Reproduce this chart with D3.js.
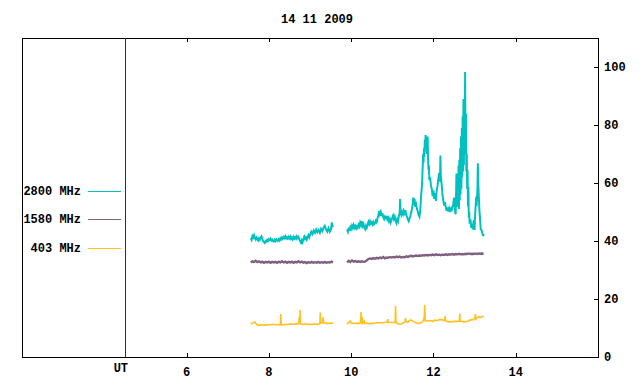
<!DOCTYPE html>
<html>
<head>
<meta charset="utf-8">
<script src="https://cdn.jsdelivr.net/npm/d3@7"></script>
<style>
  body { margin: 0; background: #fff; }
  text { font-family: "Liberation Mono", "DejaVu Sans Mono", monospace; font-weight: bold; font-size: 12px; }
</style>
</head>
<body>
<div id="chart"></div>
<script>
const title = "14 11 2009";
const xTicks = [6, 8, 10, 12, 14];
const yTicks = [0, 20, 40, 60, 80, 100];
const utHour = 4.5;
const legendLabels = ["2800 MHz", "1580 MHz", "403 MHz"];
const seriesColors = ["#00c0c0", "#806080", "#ffc020"];

// [hour UT, flux] - morning and afternoon runs of each frequency
const s2800am = [[7.56,41.0],[7.58,40.4],[7.60,41.7],[7.62,41.2],[7.64,42.0],[7.66,41.0],[7.68,40.5],[7.70,41.2],[7.72,40.7],[7.74,40.2],[7.76,40.9],[7.78,40.4],[7.80,41.2],[7.82,41.6],[7.84,40.8],[7.86,40.0],[7.88,39.6],[7.90,39.3],[7.92,40.0],[7.94,39.8],[7.96,40.4],[7.98,40.0],[8.00,40.6],[8.02,40.3],[8.04,40.8],[8.06,40.2],[8.08,40.5],[8.10,40.0],[8.12,39.8],[8.14,40.4],[8.16,40.0],[8.18,40.6],[8.20,40.2],[8.22,40.0],[8.24,40.6],[8.26,40.2],[8.28,40.9],[8.30,40.5],[8.32,41.2],[8.34,40.8],[8.36,41.4],[8.38,41.0],[8.40,41.6],[8.42,40.9],[8.44,41.3],[8.46,40.8],[8.48,41.4],[8.50,40.9],[8.52,41.5],[8.54,40.7],[8.56,41.2],[8.58,40.6],[8.60,41.4],[8.62,40.8],[8.64,41.3],[8.66,40.8],[8.68,41.6],[8.70,41.0],[8.72,41.4],[8.74,40.6],[8.76,40.0],[8.78,39.4],[8.80,40.2],[8.82,39.6],[8.84,40.8],[8.86,41.5],[8.88,40.7],[8.90,41.2],[8.92,40.5],[8.94,41.4],[8.96,42.0],[8.98,41.2],[9.00,42.0],[9.03,43.2],[9.06,42.4],[9.09,43.6],[9.12,42.8],[9.15,44.0],[9.18,43.0],[9.21,43.8],[9.24,42.8],[9.27,44.2],[9.30,43.4],[9.33,44.6],[9.36,45.2],[9.39,44.0],[9.42,43.2],[9.45,44.4],[9.48,43.2],[9.51,44.0],[9.53,46.4],[9.54,44.8],[9.56,45.5]];

const s2800pm = [[9.90,44.0],[9.92,43.2],[9.94,44.6],[9.96,43.5],[9.98,44.8],[10.00,44.2],[10.02,45.3],[10.04,44.5],[10.06,45.5],[10.08,44.6],[10.10,45.2],[10.12,44.3],[10.14,45.0],[10.16,44.5],[10.18,45.6],[10.20,45.0],[10.22,46.3],[10.24,45.5],[10.26,46.8],[10.28,45.2],[10.30,45.8],[10.32,44.5],[10.34,44.0],[10.36,45.2],[10.38,44.6],[10.40,45.8],[10.42,46.6],[10.44,45.8],[10.46,46.8],[10.48,46.0],[10.50,46.4],[10.52,45.7],[10.54,46.5],[10.56,45.8],[10.58,46.2],[10.60,47.0],[10.62,46.5],[10.64,47.8],[10.66,48.8],[10.68,50.4],[10.70,49.2],[10.72,50.0],[10.74,48.6],[10.76,49.6],[10.78,48.2],[10.80,47.6],[10.82,48.8],[10.84,47.5],[10.86,48.6],[10.88,47.4],[10.90,48.0],[10.92,46.8],[10.94,47.6],[10.96,46.4],[10.98,47.2],[11.00,48.0],[11.02,48.8],[11.04,47.6],[11.06,48.4],[11.08,47.0],[11.10,46.2],[11.12,47.4],[11.14,46.8],[11.16,48.6],[11.18,49.8],[11.19,54.5],[11.20,50.2],[11.22,49.0],[11.24,50.0],[11.26,49.2],[11.28,50.4],[11.30,49.6],[11.32,50.6],[11.34,49.0],[11.36,48.2],[11.38,47.4],[11.40,46.8],[11.42,47.8],[11.44,48.6],[11.46,49.8],[11.48,51.2],[11.50,53.0],[11.51,55.0],[11.52,52.4],[11.54,54.6],[11.56,51.8],[11.58,52.6],[11.60,51.0],[11.62,50.2],[11.64,49.0],[11.66,48.4],[11.68,50.6],[11.70,55.4],[11.72,59.0],[11.73,62.0],[11.74,66.0],[11.75,70.0],[11.76,67.0],[11.77,72.0],[11.78,69.0],[11.79,75.0],[11.80,71.5],[11.81,76.5],[11.82,72.0],[11.83,75.5],[11.84,70.0],[11.85,74.0],[11.86,76.0],[11.87,68.0],[11.88,64.5],[11.89,66.0],[11.90,61.0],[11.92,62.0],[11.94,59.0],[11.96,58.0],[11.98,55.5],[12.00,57.5],[12.02,54.5],[12.04,56.5],[12.06,53.8],[12.08,57.5],[12.10,59.0],[12.12,61.5],[12.14,63.5],[12.16,60.5],[12.17,69.5],[12.18,62.0],[12.20,59.5],[12.22,56.0],[12.24,54.0],[12.26,52.2],[12.28,53.5],[12.30,51.6],[12.32,50.4],[12.34,51.6],[12.36,50.2],[12.38,51.2],[12.40,50.0],[12.42,51.6],[12.44,50.2],[12.46,51.8],[12.48,52.5],[12.50,55.0],[12.52,50.6],[12.54,49.2],[12.55,56.0],[12.56,63.3],[12.57,55.0],[12.58,51.8],[12.59,58.0],[12.60,52.0],[12.61,66.0],[12.62,51.0],[12.63,68.0],[12.64,54.0],[12.65,72.0],[12.66,56.0],[12.67,76.0],[12.68,58.0],[12.69,79.0],[12.70,62.0],[12.71,83.0],[12.72,64.0],[12.73,89.0],[12.74,66.0],[12.75,88.0],[12.76,70.0],[12.77,98.3],[12.78,72.0],[12.79,84.0],[12.80,64.0],[12.81,70.0],[12.82,58.0],[12.83,64.5],[12.84,52.0],[12.85,58.7],[12.86,48.0],[12.87,50.0],[12.88,46.0],[12.90,47.5],[12.92,44.5],[12.94,46.0],[12.96,44.0],[12.98,47.2],[13.00,43.8],[13.01,48.0],[13.02,50.7],[13.04,55.3],[13.05,52.0],[13.07,58.0],[13.08,66.8],[13.09,60.0],[13.10,56.4],[13.12,50.0],[13.13,48.4],[13.15,44.0],[13.17,43.8],[13.19,42.6],[13.21,41.7],[13.22,42.4]];

const s1580am = [[7.56,32.6],[7.60,33.0],[7.64,32.8],[7.68,33.2],[7.72,32.7],[7.76,33.0],[7.80,32.6],[7.84,32.9],[7.88,32.5],[7.92,32.8],[7.96,32.6],[8.00,32.9],[8.04,32.5],[8.08,32.8],[8.12,32.6],[8.16,32.8],[8.20,32.5],[8.24,32.9],[8.28,32.6],[8.32,33.0],[8.36,32.6],[8.40,32.9],[8.44,32.5],[8.48,32.8],[8.52,32.6],[8.56,32.9],[8.60,32.5],[8.64,32.8],[8.68,32.6],[8.72,33.0],[8.76,32.6],[8.80,32.9],[8.84,32.5],[8.88,32.7],[8.92,32.4],[8.96,32.7],[9.00,32.5],[9.04,32.8],[9.08,32.5],[9.12,32.7],[9.16,32.5],[9.20,32.8],[9.24,32.5],[9.28,32.7],[9.32,32.5],[9.36,32.8],[9.40,32.5],[9.44,32.7],[9.48,32.6],[9.52,32.9],[9.56,32.6]];

const s1580pm = [[9.90,32.6],[9.94,33.2],[9.98,32.8],[10.02,33.3],[10.06,32.9],[10.10,33.1],[10.14,32.8],[10.18,33.0],[10.22,32.8],[10.26,33.0],[10.30,32.8],[10.34,32.9],[10.38,33.3],[10.42,33.8],[10.46,34.0],[10.50,33.8],[10.54,34.1],[10.58,33.9],[10.62,34.2],[10.66,34.0],[10.70,34.3],[10.74,34.1],[10.78,34.5],[10.82,34.0],[10.86,34.3],[10.90,34.2],[10.94,34.5],[10.98,34.3],[11.02,34.5],[11.06,34.3],[11.10,34.6],[11.14,34.4],[11.18,34.6],[11.22,34.3],[11.26,34.5],[11.30,34.4],[11.34,34.7],[11.38,34.5],[11.42,34.8],[11.46,34.9],[11.50,34.7],[11.54,34.9],[11.58,35.0],[11.62,34.8],[11.66,35.0],[11.70,34.9],[11.74,35.1],[11.78,35.0],[11.82,35.2],[11.86,35.0],[11.90,35.2],[11.94,35.1],[11.98,35.3],[12.02,35.1],[12.06,35.4],[12.10,35.2],[12.14,35.3],[12.18,35.1],[12.22,35.3],[12.26,35.2],[12.30,35.4],[12.34,35.2],[12.38,35.4],[12.42,35.3],[12.46,35.5],[12.50,35.3],[12.54,35.5],[12.58,35.4],[12.62,35.6],[12.66,35.4],[12.70,35.5],[12.74,35.4],[12.78,35.6],[12.82,35.5],[12.86,35.7],[12.90,35.5],[12.94,35.6],[12.98,35.5],[13.02,35.7],[13.06,35.5],[13.10,35.7],[13.14,35.6],[13.18,35.7],[13.22,35.6]];

const s403am = [[7.56,11.4],[7.60,11.6],[7.64,11.9],[7.66,12.1],[7.68,11.6],[7.71,11.2],[7.74,10.9],[7.80,11.0],[7.86,11.1],[7.92,11.0],[7.98,11.2],[8.04,11.1],[8.10,11.3],[8.16,11.1],[8.22,11.2],[8.28,11.1],[8.29,14.8],[8.30,11.2],[8.36,11.1],[8.42,11.3],[8.48,11.2],[8.54,11.4],[8.60,11.3],[8.66,11.5],[8.70,11.3],[8.73,12.0],[8.74,13.9],[8.75,11.6],[8.76,16.2],[8.77,11.5],[8.82,11.2],[8.88,11.4],[8.94,11.2],[9.00,11.3],[9.06,11.2],[9.12,11.4],[9.18,11.2],[9.24,11.6],[9.25,15.3],[9.26,11.7],[9.30,11.8],[9.32,13.7],[9.33,11.9],[9.38,11.6],[9.44,11.6],[9.50,11.7],[9.56,11.6]];

const s403pm = [[9.90,11.2],[9.93,11.8],[9.96,12.2],[9.98,12.4],[10.00,11.7],[10.06,11.6],[10.12,11.6],[10.18,11.6],[10.23,11.7],[10.24,15.5],[10.25,11.8],[10.27,13.8],[10.28,11.7],[10.32,12.4],[10.33,11.6],[10.40,11.6],[10.46,11.5],[10.52,11.6],[10.58,11.7],[10.64,11.8],[10.70,11.8],[10.76,11.8],[10.82,11.9],[10.88,12.1],[10.89,13.1],[10.90,11.9],[10.96,11.9],[11.02,11.9],[11.07,12.0],[11.08,17.6],[11.09,11.9],[11.14,11.4],[11.20,11.4],[11.26,11.6],[11.31,12.2],[11.32,13.4],[11.33,12.3],[11.38,12.0],[11.44,12.8],[11.48,12.5],[11.52,12.2],[11.58,11.7],[11.64,11.6],[11.70,11.8],[11.75,12.4],[11.78,13.9],[11.79,17.9],[11.80,12.4],[11.86,12.4],[11.92,12.6],[11.98,12.3],[12.04,12.7],[12.10,12.6],[12.16,12.9],[12.22,12.8],[12.27,12.6],[12.28,14.1],[12.29,12.5],[12.34,12.2],[12.40,12.1],[12.46,12.2],[12.52,12.3],[12.58,12.3],[12.63,12.4],[12.64,15.0],[12.65,12.4],[12.70,12.2],[12.76,12.1],[12.82,12.3],[12.88,12.5],[12.90,12.9],[12.94,12.8],[12.98,13.1],[13.01,13.4],[13.02,14.8],[13.03,13.0],[13.06,13.5],[13.10,13.9],[13.14,13.6],[13.18,14.0],[13.22,13.8]];

const drawChart = () => {
  const width = 640;
  const height = 384;
  const left = 22, right = 598, top = 38, bottom = 357;

  const x = d3.scaleLinear().domain([2, 16]).range([left, right]);
  const y = d3.scaleLinear().domain([0, 110]).range([bottom, top]);

  const svg = d3.select("#chart")
      .append("svg")
      .attr("width", width)
      .attr("height", height);

  svg.append("text")
      .attr("x", 317)
      .attr("y", 23)
      .attr("text-anchor", "middle")
      .text(title);

  // series first, frame on top
  const line = d3.line()
      .x(d => x(d[0]))
      .y(d => y(d[1]));

  const runs = [
    {data: s403am, color: seriesColors[2], w: 1.6},
    {data: s403pm, color: seriesColors[2], w: 1.6},
    {data: s1580am, color: seriesColors[1], w: 2.4},
    {data: s1580pm, color: seriesColors[1], w: 2.4},
    {data: s2800am, color: seriesColors[0], w: 2},
    {data: s2800pm, color: seriesColors[0], w: 2}
  ];

  svg.selectAll("path.run").data(runs).enter()
      .append("path")
      .attr("class", "run")
      .attr("d", r => line(r.data))
      .attr("fill", "none")
      .attr("stroke", r => r.color)
      .attr("stroke-width", r => r.w)
      .attr("stroke-linejoin", "miter");

  const frame = svg.append("g").attr("shape-rendering", "crispEdges");

  frame.append("rect")
      .attr("x", left + 0.5)
      .attr("y", top + 0.5)
      .attr("width", right - left)
      .attr("height", bottom - top)
      .attr("fill", "none")
      .attr("stroke", "#000");

  frame.append("line")
      .attr("x1", Math.round(x(utHour)) + 0.5)
      .attr("x2", Math.round(x(utHour)) + 0.5)
      .attr("y1", top)
      .attr("y2", bottom)
      .attr("stroke", "#a00000");

  // x ticks, bottom and mirrored on top
  xTicks.forEach(t => {
    const px = Math.round(x(t)) + 0.5;
    frame.append("line").attr("x1", px).attr("x2", px)
        .attr("y1", bottom).attr("y2", bottom - 4).attr("stroke", "#000");
    frame.append("line").attr("x1", px).attr("x2", px)
        .attr("y1", top).attr("y2", top + 4).attr("stroke", "#000");
  });

  svg.selectAll("text.xt").data(xTicks).enter()
      .append("text")
      .attr("class", "xt")
      .attr("x", t => x(t))
      .attr("y", 376)
      .attr("text-anchor", "middle")
      .text(t => t);

  svg.append("text")
      .attr("x", x(utHour) - 4)
      .attr("y", 372)
      .attr("text-anchor", "middle")
      .text("UT");

  // right-hand y axis
  yTicks.filter(v => v > 0).forEach(v => {
    const py = Math.round(y(v)) + 0.5;
    frame.append("line").attr("x1", right).attr("x2", right - 4)
        .attr("y1", py).attr("y2", py).attr("stroke", "#000");
  });

  svg.selectAll("text.yt").data(yTicks).enter()
      .append("text")
      .attr("class", "yt")
      .attr("x", 604)
      .attr("y", v => y(v) + 4)
      .text(v => v);

  // legend inside the left margin of the frame
  const legendY = [191, 219, 248];
  legendLabels.forEach((label, i) => {
    svg.append("text")
        .attr("x", 81)
        .attr("y", legendY[i] + 4)
        .attr("text-anchor", "end")
        .text(label);
    svg.append("line")
        .attr("x1", 88).attr("x2", 121)
        .attr("y1", legendY[i] + 0.5).attr("y2", legendY[i] + 0.5)
        .attr("stroke", seriesColors[i])
        .attr("stroke-width", 1);
  });
};

window.onload = drawChart;
</script>
</body>
</html>
